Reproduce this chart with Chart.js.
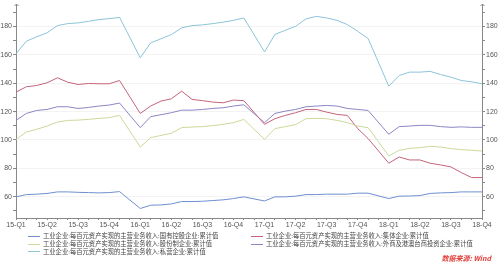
<!DOCTYPE html>
<html>
<head>
<meta charset="utf-8">
<script src="https://cdn.jsdelivr.net/npm/chart.js@4"></script>
<style>
  html, body { margin: 0; padding: 0; background: #fff; }
  #wrap { position: relative; width: 500px; height: 263px; }
  #legenda { position: absolute; left: 0; top: 0; width: 500px; height: 263px; pointer-events: none;
    font-family: "Noto Sans CJK SC", "Noto Sans", sans-serif; font-size: 6.3px; color: #444; }
  .item { position: absolute; height: 8px; line-height: 8px; white-space: nowrap; }
  .item i { display: inline-block; width: 12px; height: 0; border-top: 1px solid; vertical-align: middle; margin-right: 3px; }
  #fonte { position: absolute; right: 9px; top: 253px; font-family: "Noto Sans CJK SC", sans-serif;
    font-size: 7px; font-style: italic; font-weight: bold; color: #e0403a; }
</style>
</head>
<body>
<div id="wrap">
  <canvas id="grafico" width="500" height="263"></canvas>
  <div id="legenda"></div>
  <div id="fonte">数据来源: Wind</div>
</div>
<script>
// eixo x: meses contados a partir de fev/2015 (jan não é publicado)
const meses = [0, 1, 2, 3, 4, 5, 6, 7, 8, 9, 10,
  12, 13, 14, 15, 16, 17, 18, 19, 20, 21, 22,
  24, 25, 26, 27, 28, 29, 30, 31, 32, 33, 34,
  36, 37, 38, 39, 40, 41, 42, 43, 44, 45];

const rotulosTrimestre = ['15-Q1', '15-Q2', '15-Q3', '15-Q4', '16-Q1', '16-Q2', '16-Q3', '16-Q4',
  '17-Q1', '17-Q2', '17-Q3', '17-Q4', '18-Q1', '18-Q2', '18-Q3', '18-Q4'];

const nomes = [
  '工业企业:每百元资产实现的主营业务收入:国有控股企业:累计值',
  '工业企业:每百元资产实现的主营业务收入:股份制企业:累计值',
  '工业企业:每百元资产实现的主营业务收入:私营企业:累计值',
  '工业企业:每百元资产实现的主营业务收入:集体企业:累计值',
  '工业企业:每百元资产实现的主营业务收入:外商及港澳台商投资企业:累计值'
];

const estatais = [59.9, 61.5, 61.8, 62.3, 63.4, 63.4, 63.1, 62.9, 62.7, 62.9, 63.6,
  51.7, 54.0, 54.2, 54.9, 56.6, 56.6, 56.8, 57.3, 57.8, 58.7, 59.9,
  57.0, 59.9, 59.9, 60.4, 61.5, 61.5, 61.8, 61.8, 61.8, 62.5, 62.5,
  58.7, 60.4, 60.5, 60.8, 62.3, 62.7, 62.9, 63.4, 63.4, 63.4];

const acionarias = [100.4, 105.6, 107.5, 109.8, 112.6, 113.8, 114.0, 114.5, 115.2, 115.7, 117.3,
  95.0, 101.6, 103.2, 104.7, 108.7, 109.1, 109.4, 110.1, 111.0, 112.2, 114.5,
  100.4, 108.0, 109.4, 110.8, 115.0, 115.2, 115.0, 113.8, 112.2, 109.8, 108.7,
  88.7, 92.7, 94.1, 94.6, 95.5, 95.0, 93.9, 93.2, 92.7, 92.2];

const privadas = [160.8, 169.6, 172.7, 175.5, 180.6, 182.0, 182.5, 183.6, 184.8, 185.5, 186.4,
  157.9, 168.4, 171.3, 174.3, 179.0, 180.6, 181.1, 182.0, 183.0, 184.3, 186.0,
  162.1, 174.3, 177.3, 180.1, 185.3, 187.1, 186.0, 184.3, 181.3, 176.6, 171.5,
  137.9, 145.4, 147.8, 147.8, 148.3, 146.1, 144.3, 141.9, 141.0, 139.6];

const coletivas = [133.7, 137.5, 138.4, 140.3, 143.8, 140.7, 139.1, 139.8, 139.6, 139.6, 141.9,
  118.7, 123.9, 127.4, 129.0, 134.4, 128.6, 127.7, 126.7, 126.2, 128.1, 127.7,
  111.0, 115.0, 117.3, 119.2, 121.5, 121.5, 119.6, 118.0, 117.3, 108.0, 101.0,
  83.6, 88.0, 85.9, 85.9, 83.6, 82.4, 81.0, 77.0, 73.5, 73.5];

const estrangeiras = [113.8, 118.7, 120.8, 121.5, 123.4, 123.4, 122.2, 122.9, 123.9, 124.6, 126.0,
  108.7, 116.4, 117.8, 119.2, 121.0, 121.0, 121.5, 122.2, 122.7, 123.9, 124.8,
  112.2, 118.7, 120.3, 121.5, 123.4, 123.9, 124.3, 123.9, 122.2, 121.5, 120.8,
  104.0, 109.4, 109.8, 110.3, 110.3, 109.4, 108.9, 109.2, 108.9, 108.9];

const cores = ['#6f8fd0', '#cbd99a', '#8cc4d8', '#c4647a', '#8a86c6'];
const series = [estatais, acionarias, privadas, coletivas, estrangeiras];

function montarPontos(valores) {
  return meses.map((m, i) => ({ x: m, y: valores[i] }));
}

// setinhas no topo dos eixos verticais
const setasEixos = {
  id: 'setasEixos',
  afterDraw(chart) {
    const ctx = chart.ctx;
    const area = chart.chartArea;
    ctx.save();
    ctx.strokeStyle = '#888';
    ctx.lineWidth = 1;
    [area.left, area.right].forEach(x => {
      const xx = Math.round(x) + 0.5;
      ctx.beginPath();
      ctx.moveTo(xx, area.top);
      ctx.lineTo(xx, area.top - 4);
      ctx.moveTo(xx - 2, area.top - 2);
      ctx.lineTo(xx, area.top - 4);
      ctx.lineTo(xx + 2, area.top - 2);
      ctx.stroke();
    });
    ctx.restore();
  }
};

const fonteTicks = { family: 'Liberation Sans', size: 7 };

const grafico = new Chart(document.getElementById('grafico').getContext('2d'), {
  type: 'line',
  data: {
    datasets: series.map((valores, i) => ({
      label: nomes[i],
      data: montarPontos(valores),
      borderColor: cores[i],
      backgroundColor: cores[i],
      borderWidth: 1,
      pointRadius: 0,
      tension: 0,
      fill: false,
      yAxisID: 'y'
    }))
  },
  options: {
    responsive: false,
    animation: false,
    devicePixelRatio: 1,
    layout: { padding: { top: 8, left: 0, right: 0, bottom: 0 } },
    plugins: {
      legend: { display: false },
      tooltip: { enabled: false }
    },
    scales: {
      x: {
        type: 'linear',
        min: 0,
        max: 45,
        afterFit(scale) { scale.height = 45; },
        border: { color: '#888' },
        grid: { drawOnChartArea: false, tickLength: 2, tickColor: '#888' },
        ticks: {
          stepSize: 1,
          autoSkip: false,
          maxRotation: 0,
          padding: 1,
          color: '#555',
          font: fonteTicks,
          callback: v => (v % 3 === 0 ? rotulosTrimestre[v / 3] : '')
        }
      },
      y: {
        position: 'left',
        min: 45,
        max: 193,
        afterFit(scale) { scale.width = 16; },
        border: { color: '#888' },
        grid: {
          tickLength: 3,
          tickColor: '#888',
          color: c => (c.tick && c.tick.value % 20 === 0 ? '#f3f3f3' : 'rgba(0,0,0,0)')
        },
        ticks: {
          stepSize: 10,
          includeBounds: false,
          padding: 1,
          color: '#555',
          font: fonteTicks,
          callback: v => (v % 20 === 0 ? v : '')
        }
      },
      y2: {
        position: 'right',
        min: 45,
        max: 193,
        afterFit(scale) { scale.width = 18; },
        border: { color: '#888' },
        grid: { drawOnChartArea: false, tickLength: 3, tickColor: '#888' },
        ticks: {
          stepSize: 10,
          includeBounds: false,
          padding: 1,
          color: '#555',
          font: fonteTicks,
          callback: v => (v % 20 === 0 ? v : '')
        }
      }
    }
  },
  plugins: [setasEixos]
});

// legenda em duas colunas, montada a partir dos mesmos nomes e cores
const posLegenda = [[28, 232], [28, 240], [28, 247.5], [251, 232], [251, 240]];
const legenda = document.getElementById('legenda');
nomes.forEach((nome, i) => {
  const div = document.createElement('div');
  div.className = 'item';
  div.style.left = posLegenda[i][0] + 'px';
  div.style.top = posLegenda[i][1] + 'px';
  div.innerHTML = '<i style="border-color:' + cores[i] + '"></i>' + nome;
  legenda.appendChild(div);
});
</script>
</body>
</html>
